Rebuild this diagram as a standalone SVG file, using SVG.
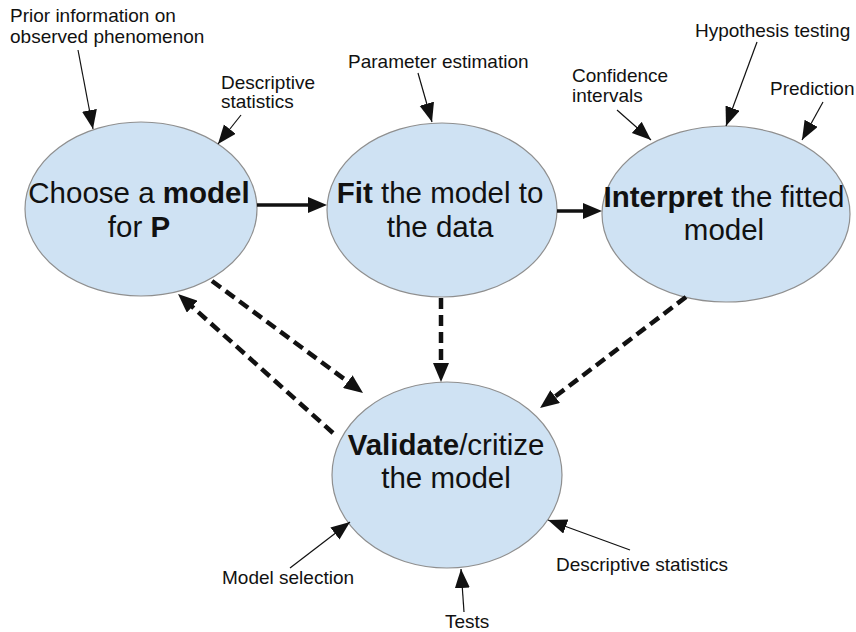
<svg xmlns="http://www.w3.org/2000/svg" width="856" height="632" viewBox="0 0 856 632">
<style>
.node ellipse{fill:#cfe2f3;stroke:#8f8f8f;stroke-width:1.2}
.big{font-family:"Liberation Sans",Arial,sans-serif;font-size:29.5px;fill:#111;text-anchor:middle}
.lbl{font-family:"Liberation Sans",Arial,sans-serif;font-size:19px;fill:#111}
.b{font-weight:bold}
.thin{stroke:#111;stroke-width:1.2;fill:none;marker-end:url(#ah)}
.solid{stroke:#111;stroke-width:3.5;fill:none;marker-end:url(#ahb)}
.dash{stroke:#111;stroke-width:4.5;fill:none;stroke-dasharray:11 6;marker-end:url(#ahb)}
</style>
<defs>
<marker id="ah" markerUnits="userSpaceOnUse" markerWidth="20" markerHeight="16" refX="19" refY="7.5" orient="auto">
<path d="M0,0 L19,7.5 L0,15 z" fill="#111"/>
</marker>
<marker id="ahb" markerUnits="userSpaceOnUse" markerWidth="20" markerHeight="16" refX="9" refY="8" orient="auto">
<path d="M0,0 L19,8 L0,16 z" fill="#111"/>
</marker>
</defs>
<rect width="856" height="632" fill="#fff"/>

<g id="choose" class="node">
<ellipse cx="141" cy="209" rx="116" ry="87"/>
<text class="big" x="139" y="203">Choose a <tspan class="b">model</tspan></text>
<text class="big" x="139" y="237">for <tspan class="b">P</tspan></text>
</g>

<g id="fit" class="node">
<ellipse cx="442" cy="210" rx="115" ry="87"/>
<text class="big" x="440" y="203"><tspan class="b">Fit</tspan> the model to</text>
<text class="big" x="440" y="237">the data</text>
</g>

<g id="interpret" class="node">
<ellipse cx="726" cy="214" rx="124" ry="88"/>
<text class="big" x="724" y="207"><tspan class="b">Interpret</tspan> the fitted</text>
<text class="big" x="724" y="240">model</text>
</g>

<g id="validate" class="node">
<ellipse cx="447" cy="475" rx="115" ry="93"/>
<text class="big" x="446" y="455"><tspan class="b">Validate</tspan>/critize</text>
<text class="big" x="446" y="488">the model</text>
</g>

<g id="labels">
<text class="lbl" x="10" y="22">Prior information on</text>
<text class="lbl" x="10" y="43">observed phenomenon</text>
<text class="lbl" x="221" y="89">Descriptive</text>
<text class="lbl" x="221" y="108">statistics</text>
<text class="lbl" x="348" y="68">Parameter estimation</text>
<text class="lbl" x="572" y="82">Confidence</text>
<text class="lbl" x="572" y="102">intervals</text>
<text class="lbl" x="695" y="37">Hypothesis testing</text>
<text class="lbl" x="770" y="95">Prediction</text>
<text class="lbl" x="222" y="584">Model selection</text>
<text class="lbl" x="445" y="628">Tests</text>
<text class="lbl" x="556" y="571">Descriptive statistics</text>
</g>

<g id="connectors">
<line class="solid" x1="257" y1="205" x2="317" y2="205"/>
<line class="solid" x1="557" y1="211" x2="592" y2="211"/>
<line class="dash" x1="212" y1="281" x2="355" y2="387"/>
<line class="dash" x1="333" y1="433" x2="185.5" y2="300.7"/>
<line class="dash" x1="441" y1="298" x2="441" y2="372"/>
<line class="dash" x1="686" y1="297" x2="548" y2="402"/>
<line class="thin" x1="78" y1="50" x2="93" y2="129"/>
<line class="thin" x1="241" y1="115" x2="218" y2="144"/>
<line class="thin" x1="418" y1="73" x2="432" y2="122"/>
<line class="thin" x1="617" y1="110" x2="651" y2="140"/>
<line class="thin" x1="757" y1="42" x2="726" y2="126"/>
<line class="thin" x1="823" y1="102" x2="802" y2="140"/>
<line class="thin" x1="290" y1="568" x2="350" y2="522"/>
<line class="thin" x1="464" y1="612" x2="461" y2="569"/>
<line class="thin" x1="630" y1="550" x2="548" y2="520"/>
</g>
</svg>
